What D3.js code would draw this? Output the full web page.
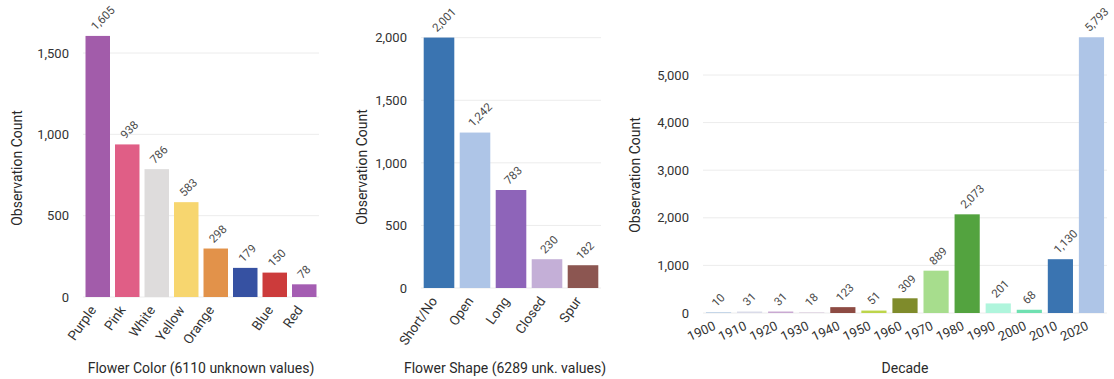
<!DOCTYPE html>
<html>
<head>
<meta charset="utf-8">
<script src="https://cdn.jsdelivr.net/npm/d3@7"></script>
<style>
  html, body { margin: 0; padding: 0; background: #fff; }
  svg { display: block; font-family: Roboto, "Noto Sans", sans-serif; }
</style>
</head>
<body>
<svg id="chart" width="1114" height="379"></svg>
<script>
// Flower colour counts
const colorLabels = ["Purple", "Pink", "White", "Yellow", "Orange", "", "Blue", "Red"];
const colorValues = [1605, 938, 786, 583, 298, 179, 150, 78];
const colorFills = ["#a25caa", "#e05e86", "#dedcdc", "#f7d66f", "#e2924a", "#3651a2", "#cc3b3b", "#a45db2"];
const colorTicks = [0, 500, 1000, 1500];

// Flower shape counts
const shapeLabels = ["Short/No", "Open", "Long", "Closed", "Spur"];
const shapeValues = [2001, 1242, 783, 230, 182];
const shapeFills = ["#3a74b1", "#aec5e7", "#8e64b9", "#c4afd7", "#8c5651"];
const shapeTicks = [0, 500, 1000, 1500, 2000];

// Observations per decade
const decadeLabels = ["1900", "1910", "1920", "1930", "1940", "1950", "1960", "1970", "1980", "1990", "2000", "2010", "2020"];
const decadeValues = [10, 31, 31, 18, 123, 51, 309, 889, 2073, 201, 68, 1130, 5793];
const decadeFills = ["#8fb4d9", "#dadbe9", "#c9a9d2", "#e1d6e3", "#8d4b43", "#bdd54b", "#7f8b2b", "#a7dd8d", "#53a33f", "#aff5dc", "#6fe0b1", "#3a74b1", "#aec5e7"];
const decadeTicks = [0, 1000, 2000, 3000, 4000, 5000];

const svg = d3.select("#chart");
const fmt = d3.format(",");

function panel(cfg) {
  const g = svg.append("g");
  const idx = cfg.values.map((d, i) => i);
  const x = d3.scaleBand().domain(idx).range(cfg.xRange).paddingInner(cfg.pad).paddingOuter(cfg.pad / 2);
  const y = d3.scaleLinear().domain([0, cfg.ticks[cfg.ticks.length - 1]]).range(cfg.yRange);

  // gridlines
  g.append("g").selectAll("line").data(cfg.ticks).join("line")
    .attr("x1", cfg.xRange[0]).attr("x2", cfg.xRange[1])
    .attr("y1", d => y(d)).attr("y2", d => y(d))
    .attr("stroke", "#ececec").attr("stroke-width", 1);

  // y axis
  const yAxis = d3.axisLeft(y).tickValues(cfg.ticks).tickFormat(fmt).tickSize(0).tickPadding(14);
  const ya = g.append("g").attr("transform", `translate(${cfg.xRange[0]},0)`).call(yAxis);
  ya.select(".domain").remove();
  ya.selectAll("text").attr("font-size", 13).attr("fill", "#333").attr("font-family", "Roboto, sans-serif");

  // bars
  g.append("g").selectAll("rect").data(cfg.values).join("rect")
    .attr("x", (d, i) => x(i)).attr("width", x.bandwidth())
    .attr("y", d => y(d)).attr("height", d => y(0) - y(d))
    .attr("fill", (d, i) => cfg.fills[i]);

  // value labels
  g.append("g").selectAll("text").data(cfg.values).join("text")
    .attr("transform", (d, i) => `translate(${x(i) + x.bandwidth() / 2 - 2},${y(d) - 5}) rotate(-45)`)
    .attr("font-size", 11.5).attr("fill", "#4a4a4a")
    .text(d => fmt(d));

  // x tick labels
  g.append("g").selectAll("text").data(cfg.labels).join("text")
    .attr("transform", (d, i) => `translate(${x(i) + x.bandwidth() / 2 + cfg.lx},${y(0) + cfg.ly}) rotate(${cfg.angle})`)
    .attr("text-anchor", "end").attr("font-size", cfg.xFont).attr("fill", "#333")
    .text(d => d);

  // axis titles
  g.append("text")
    .attr("transform", `translate(${cfg.yTitleX},${cfg.yTitleY}) rotate(-90)`)
    .attr("text-anchor", "middle").attr("font-size", 14).attr("fill", "#2a2a2a")
    .text("Observation Count");
  g.append("text")
    .attr("x", cfg.xTitleX).attr("y", 373)
    .attr("text-anchor", "middle").attr("font-size", 14).attr("fill", "#2a2a2a")
    .text(cfg.xTitle);
}

panel({
  labels: colorLabels, values: colorValues, fills: colorFills, ticks: colorTicks,
  xRange: [83, 319], yRange: [297, 53], pad: 0.17,
  angle: -55, lx: -1, ly: 13, xFont: 13.5,
  yTitleX: 22, yTitleY: 168, xTitleX: 201, xTitle: "Flower Color (6110 unknown values)"
});

panel({
  labels: shapeLabels, values: shapeValues, fills: shapeFills, ticks: shapeTicks,
  xRange: [421, 601], yRange: [288, 37.7], pad: 0.15,
  angle: -55, lx: -1, ly: 13, xFont: 13.5,
  yTitleX: 367, yTitleY: 167, xTitleX: 505, xTitle: "Flower Shape (6289 unk. values)"
});

panel({
  labels: decadeLabels, values: decadeValues, fills: decadeFills, ticks: decadeTicks,
  xRange: [703, 1107], yRange: [313, 75], pad: 0.19,
  angle: -25, lx: -2, ly: 16, xFont: 13,
  yTitleX: 640, yTitleY: 175, xTitleX: 905, xTitle: "Decade"
});
</script>
</body>
</html>
